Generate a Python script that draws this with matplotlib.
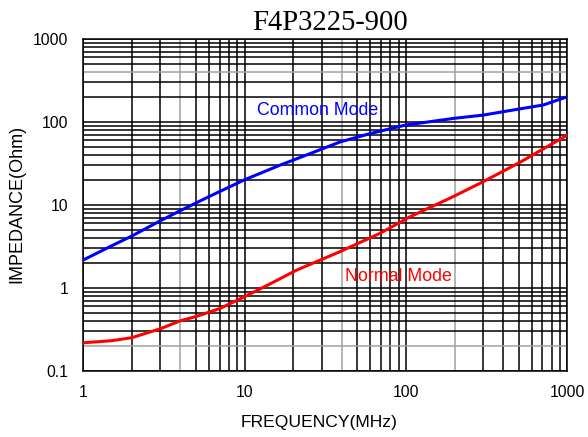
"""Impedantiecurve F4P3225-900 (common mode / normal mode)."""

import matplotlib
matplotlib.use('Agg')
import matplotlib.pyplot as plt

freq_cm = [1, 1.5, 2, 3, 4, 6, 10, 16.6, 22, 39, 60, 99, 200, 300, 510, 710, 1000]
z_cm = [2.16, 3.2, 4.2, 6.4, 8.5, 12.5, 20, 30, 37, 57, 72, 91, 110, 120, 143, 159, 200]

# Normal mode
freq_nm = [1, 1.5, 2, 3, 4, 5, 7, 10, 15, 21, 39, 69, 106, 196, 302, 510, 1000]
z_nm = [0.217, 0.23, 0.25, 0.32, 0.40, 0.45, 0.56, 0.78, 1.16, 1.63, 2.72, 4.52,
        7.16, 12.5, 19.0, 32.5, 69]

x_ticks = [1, 10, 100, 1000]
x_ticklabels = ['1', '10', '100', '1000']
y_ticks = [0.1, 1, 10, 100, 1000]
y_ticklabels = ['0.1', '1', '10', '100', '1000']

# rasterlijnen die in het origineel grijs zijn
x_grey = [4, 40, 200]
y_grey = [0.2, 400]

SANS = ['Liberation Sans', 'DejaVu Sans']


def grid_values(lo_exp, hi_exp):
    vals = []
    for e in range(lo_exp, hi_exp):
        for m in range(1, 10):
            vals.append(m * 10.0 ** e)
    vals.append(10.0 ** hi_exp)
    return vals


def main():
    fig = plt.figure(figsize=(5.88, 4.37), dpi=100)
    ax = fig.add_axes([0.1417, 0.1517, 0.8231, 0.7597])
    ax.set_xscale('log')
    ax.set_yscale('log')
    ax.set_xlim(1, 1000)
    ax.set_ylim(0.1, 1000)

    for v in grid_values(0, 3):
        grey = any(abs(v - g) < 1e-9 for g in x_grey)
        ax.axvline(v, color='#a0a0a0' if grey else 'black', lw=1.1, zorder=1)
    for v in grid_values(-1, 3):
        grey = any(abs(v - g) < 1e-9 for g in y_grey)
        ax.axhline(v, color='#a0a0a0' if grey else 'black', lw=1.1, zorder=1)

    ax.plot(freq_cm, z_cm, color='#0000ff', lw=2.2, zorder=3)
    ax.plot(freq_nm, z_nm, color='#ff0000', lw=2.2, zorder=3)

    ax.text(11.9, 138, 'Common Mode', color='#0000ff', fontsize=12.8,
            family=SANS, ha='left', va='center', zorder=4)
    ax.text(42, 1.36, 'Normal Mode', color='#ff0000', fontsize=12.8,
            family=SANS, ha='left', va='center', zorder=4)

    ax.xaxis.set_major_locator(matplotlib.ticker.FixedLocator(x_ticks))
    ax.yaxis.set_major_locator(matplotlib.ticker.FixedLocator(y_ticks))
    ax.xaxis.set_minor_locator(matplotlib.ticker.NullLocator())
    ax.yaxis.set_minor_locator(matplotlib.ticker.NullLocator())
    ax.set_xticklabels(x_ticklabels, family=SANS, fontsize=11.3)
    ax.set_yticklabels(y_ticklabels, family=SANS, fontsize=11.3)
    ax.tick_params(axis='x', length=0, pad=10)
    ax.tick_params(axis='y', length=0, pad=11)
    for s in ax.spines.values():
        s.set_color('black')
        s.set_linewidth(1.1)

    fig.text(0.5612, 0.947, 'F4P3225-900', family=['Liberation Serif', 'DejaVu Serif'],
             fontsize=20.6, ha='center', va='center')
    fig.text(0.5425, 0.034, 'FREQUENCY(MHz)', family=SANS, fontsize=12.6,
             ha='center', va='center')
    fig.text(0.028, 0.533, 'IMPEDANCE(Ohm)', family=SANS, fontsize=13,
             ha='center', va='center', rotation=90)

    fig.savefig('out.png', dpi=100)


if __name__ == '__main__':
    main()
